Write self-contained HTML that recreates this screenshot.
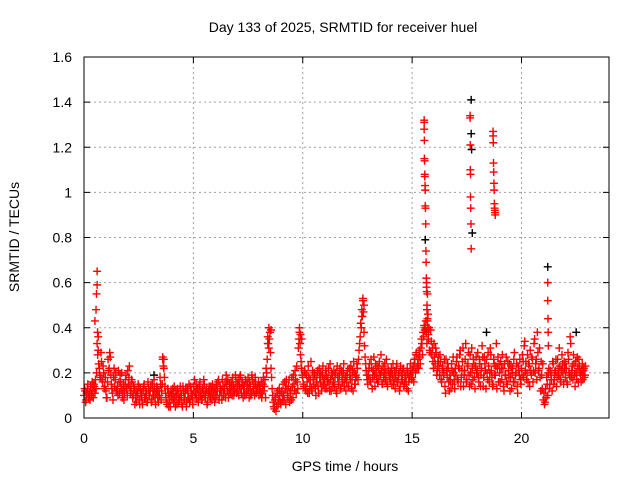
<!DOCTYPE html>
<html><head><meta charset="utf-8"><style>
html,body{margin:0;padding:0;background:#fff}
svg{display:block;font-family:"Liberation Sans",sans-serif}
</style></head><body>
<svg id="chart" width="640" height="480">
<rect x="0" y="0" width="640" height="480" fill="#fff"/>
<text x="343" y="32" font-size="14" text-anchor="middle">Day 133 of 2025, SRMTID for receiver huel</text>
<text x="345" y="471" font-size="14" text-anchor="middle">GPS time / hours</text>
<text transform="translate(19,237) rotate(-90)" font-size="14" text-anchor="middle">SRMTID / TECUs</text>
<g id="grid"></g><g id="marks"></g><g id="axes"></g>
</svg>
<script>
const xTicks=[0,5,10,15,20];
const yTicks=[0,0.2,0.4,0.6,0.8,1,1.2,1.4,1.6];
const yTickLabels=["0","0.2","0.4","0.6","0.8","1","1.2","1.4","1.6"];
const baseStart=0, baseStep=0.05, base2Start=0.025;
const baseValues=[
.10,.12,.08,.13,.09,.11,.14,.10,.12,.15,.11,.13,.33,.30,.22,.18,.25,.16,.20,.14,
.12,.09,.26,.22,.27,.15,.11,.18,.14,.20,.12,.10,.16,.19,.13,.09,.15,.11,.17,.13,
.21,.18,.14,.12,.16,.10,.13,.09,.07,.11,.14,.06,.10,.08,.12,.15,.09,.11,.07,.13,
.10,.14,.08,.12,.17,.09,.11,.13,.07,.10,.15,.12,.26,.22,.14,.09,.06,.11,.08,.05,
.10,.13,.07,.09,.12,.06,.11,.08,.14,.10,.05,.12,.09,.13,.07,.11,.15,.08,.12,.10,
.14,.17,.11,.09,.13,.10,.16,.12,.08,.11,.15,.09,.13,.07,.12,.10,.14,.08,.11,.13,
.09,.15,.12,.17,.10,.13,.08,.14,.11,.16,.19,.12,.09,.15,.11,.14,.18,.10,.13,.16,
.12,.17,.14,.19,.11,.15,.13,.10,.16,.12,.18,.09,.14,.11,.17,.13,.10,.15,.12,.14,
.10,.13,.16,.11,.18,.14,.09,.20,.36,.31,.38,.22,.13,.07,.04,.09,.05,.12,.08,.10,
.06,.11,.15,.08,.13,.17,.10,.14,.07,.12,.18,.09,.15,.21,.11,.16,.31,.38,.28,.22,
.18,.14,.20,.12,.16,.23,.11,.17,.13,.21,.15,.19,.10,.18,.14,.22,.16,.12,.19,.15,
.17,.21,.13,.18,.15,.24,.12,.19,.16,.14,.20,.11,.18,.15,.22,.13,.17,.20,.14,.18,
.16,.21,.14,.19,.23,.17,.12,.20,.15,.18,.22,.26,.33,.42,.48,.52,.38,.27,.21,.17,
.19,.24,.16,.22,.18,.27,.14,.20,.23,.17,.25,.19,.21,.15,.18,.24,.20,.16,.22,.19,
.17,.22,.19,.15,.21,.18,.24,.16,.20,.14,.19,.17,.22,.15,.18,.13,.20,.16,.19,.21,
.18,.23,.26,.20,.29,.24,.22,.27,.31,.33,.38,.41,.40,.38,.55,.35,.30,.39,.28,.25,
.33,.24,.29,.21,.27,.19,.25,.16,.23,.20,.14,.26,.18,.22,.12,.17,.24,.15,.20,.13,
.19,.27,.16,.22,.30,.18,.25,.14,.21,.33,.17,.24,.19,.28,.15,.22,.26,.18,.23,.20,
.29,.16,.24,.19,.32,.14,.27,.21,.26,.17,.23,.20,.28,.18,.15,.24,.19,.33,.22,.16,
.20,.25,.17,.22,.12,.19,.27,.15,.21,.24,.18,.13,.22,.26,.16,.20,.14,.23,.19,.17,
.22,.28,.18,.34,.25,.20,.16,.23,.30,.19,.26,.21,.35,.24,.17,.29,.22,.18,.25,.13,
.08,.06,.13,.18,.10,.22,.15,.19,.12,.24,.17,.21,.14,.26,.19,.23,.16,.28,.20,.25,
.18,.22,.15,.26,.19,.33,.21,.17,.24,.14,.20,.27,.16,.23,.19,.21,.17,.22,.19];
const baseValues2=[
.13,.07,.11,.15,.10,.08,.12,.16,.09,.14,.17,.20,.28,.24,.19,.29,.17,.23,.13,.18,
.09,.16,.21,.29,.19,.13,.08,.22,.17,.12,.14,.21,.11,.16,.20,.12,.08,.14,.19,.10,
.15,.23,.11,.17,.09,.14,.06,.12,.10,.15,.08,.13,.11,.06,.14,.09,.12,.07,.16,.10,
.12,.07,.15,.10,.13,.06,.14,.09,.12,.18,.08,.15,.23,.18,.11,.07,.13,.05,.10,.12,
.08,.11,.14,.05,.10,.13,.07,.09,.12,.06,.14,.08,.11,.05,.13,.09,.07,.14,.10,.06,
.12,.09,.15,.13,.07,.14,.10,.08,.13,.17,.10,.12,.06,.11,.14,.09,.12,.15,.10,.07,
.13,.10,.16,.08,.14,.12,.17,.10,.13,.09,.15,.17,.11,.13,.16,.10,.14,.12,.19,.11,
.15,.10,.18,.13,.16,.09,.14,.17,.11,.15,.13,.16,.10,.19,.12,.15,.18,.11,.13,.16,
.14,.11,.09,.15,.12,.17,.22,.26,.33,.35,.29,.18,.10,.05,.08,.03,.11,.06,.13,.07,
.12,.08,.10,.16,.06,.13,.09,.17,.11,.08,.14,.19,.12,.17,.23,.13,.35,.33,.25,.19,
.15,.21,.13,.19,.11,.18,.14,.25,.12,.17,.20,.13,.16,.21,.11,.18,.20,.14,.23,.17,
.13,.19,.16,.22,.12,.17,.20,.14,.21,.18,.12,.23,.15,.19,.13,.21,.16,.24,.17,.12,
.19,.14,.22,.17,.13,.21,.25,.15,.19,.24,.17,.30,.36,.40,.45,.47,.32,.24,.19,.15,
.22,.17,.26,.13,.21,.19,.24,.17,.16,.22,.19,.28,.15,.23,.20,.17,.26,.14,.21,.18,
.20,.15,.24,.17,.13,.22,.16,.19,.12,.23,.17,.21,.14,.19,.16,.22,.12,.18,.24,.17,
.21,.16,.24,.28,.22,.26,.30,.24,.35,.28,.36,.39,.43,.33,.46,.40,.29,.34,.31,.22,
.27,.31,.19,.25,.23,.28,.17,.22,.19,.26,.11,.21,.24,.16,.19,.13,.21,.27,.17,.22,
.25,.17,.23,.28,.14,.21,.31,.19,.26,.16,.23,.29,.14,.20,.31,.17,.24,.13,.27,.21,
.18,.26,.14,.22,.27,.18,.24,.13,.20,.29,.16,.31,.21,.14,.26,.19,.23,.13,.27,.24,
.16,.22,.28,.14,.24,.19,.16,.25,.18,.12,.23,.20,.16,.29,.19,.24,.11,.21,.26,.15,
.19,.25,.32,.21,.17,.28,.24,.14,.21,.27,.16,.33,.20,.26,.38,.21,.31,.12,.19,.24,
.11,.07,.09,.15,.20,.13,.21,.17,.25,.15,.20,.26,.18,.22,.31,.17,.21,.24,.15,.22,
.24,.16,.29,.20,.36,.18,.23,.28,.19,.25,.17,.22,.26,.20,.16,.24,.21,.18,.23];
const spikeTimes=[0.5,0.55,0.57,0.6,0.6,0.62,0.65,3.6,3.65,8.4,8.45,8.55,9.85,9.9,9.95,12.7,12.75,12.8,
15.55,15.55,15.55,15.56,15.56,15.57,15.58,15.58,15.59,15.6,15.6,15.61,15.62,15.63,15.64,15.65,15.66,15.66,15.67,15.68,15.68,15.7,15.7,15.72,15.74,
17.65,17.65,17.66,17.66,17.67,17.67,17.68,17.69,17.7,
18.7,18.7,18.71,18.72,18.73,18.74,18.75,18.76,18.77,18.78,18.79,18.8,
21.2,21.2,21.21,21.22,21.23];
const spikeValues=[.43,.48,.55,.59,.65,.38,.36,.27,.26,.33,.40,.39,.40,.37,.35,.45,.53,.50,
1.32,1.31,1.28,1.23,1.15,1.14,1.08,1.07,1.03,1.01,.94,.93,.86,.74,.69,.62,.60,.58,.56,.50,.48,.44,.43,.40,.37,
1.33,1.34,1.21,1.10,1.08,.98,.93,.86,.75,
1.27,1.25,1.22,1.13,1.09,1.04,1.01,.95,.93,.92,.91,.90,
.60,.52,.44,.38,.32];
const blackTimes=[15.6,17.7,17.7,17.72,17.75,21.2,22.5,18.4,3.2];
const blackValues=[.79,1.41,1.26,1.19,.82,.67,.38,.38,.19];

const L=84,R=609,T=57,B=418,XMAX=24,YMAX=1.6;
const xS=v=>L+v/XMAX*(R-L), yS=v=>B-v/YMAX*(B-T);
const NS="http://www.w3.org/2000/svg";
function mk(tag,attrs,parent){const e=document.createElementNS(NS,tag);for(const k in attrs)e.setAttribute(k,attrs[k]);parent.appendChild(e);return e;}
const grid=document.getElementById('grid'),marks=document.getElementById('marks'),axes=document.getElementById('axes');
xTicks.forEach((t,i)=>{const x=xS(t);
 if(t>0){const g=mk('line',{x1:x,x2:x,y1:T,y2:B,stroke:'#a0a0a0','stroke-dasharray':'2,3'},grid);
 
 }
 mk('line',{x1:x,x2:x,y1:B,y2:B-6,stroke:'#000'},axes);mk('line',{x1:x,x2:x,y1:T,y2:T+6,stroke:'#000'},axes);
 const l=mk('text',{x:x,y:B+25,'font-size':14,'text-anchor':'middle'},axes);l.textContent=String(t);
 
 });
yTicks.forEach((t,i)=>{const y=yS(t);
 if(t>0&&t<YMAX){const g=mk('line',{x1:L,x2:R,y1:y,y2:y,stroke:'#a0a0a0','stroke-dasharray':'2,3'},grid);
 
 }
 mk('line',{x1:L,x2:L+6,y1:y,y2:y,stroke:'#000'},axes);mk('line',{x1:R,x2:R-6,y1:y,y2:y,stroke:'#000'},axes);
 const l=mk('text',{x:L-12,y:y+5,'font-size':14,'text-anchor':'end'},axes);l.textContent=yTickLabels[i];
 
 });
const frame=mk('rect',{x:L,y:T,width:R-L,height:B-T,fill:'none',stroke:'#000'},axes);


function plus(t,v,c,name){const x=xS(t),y=yS(v);
 const p=mk('path',{d:`M${x-4},${y}H${x+4}M${x},${y-4}V${y+4}`,stroke:c,'stroke-width':1.4,fill:'none'},marks);
 
 }
blackTimes.forEach((t,i)=>plus(t,blackValues[i],'#000','black-point'));
baseValues.forEach((v,i)=>{const t=baseStart+i*baseStep;plus(t,v,'#f00','srmtid-point');});
baseValues2.forEach((v,i)=>{const t=base2Start+i*baseStep;plus(t,v,'#f00','srmtid-point');});
spikeTimes.forEach((t,i)=>plus(t,spikeValues[i],'#f00','srmtid-spike-point'));
</script>
</body></html>
